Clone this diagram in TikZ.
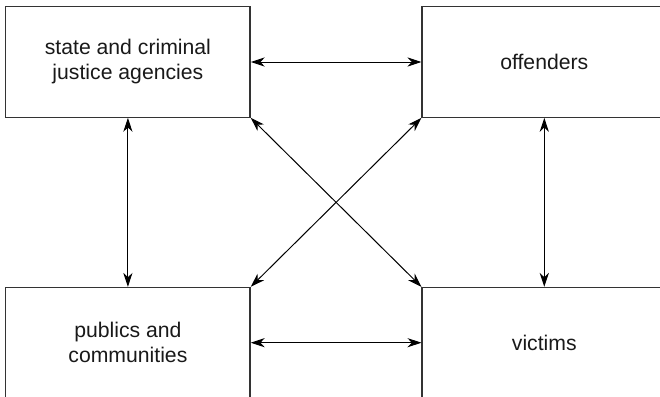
\documentclass[tikz,border=0pt]{standalone}
\usepackage{fontspec}
\setmainfont{Liberation Sans}
\usepackage{tikz}
\usetikzlibrary{arrows.meta}
\tikzstyle{box} = [draw=black!80, line width=0.65pt, minimum width=122.2pt, minimum height=55.2pt, inner sep=0pt, align=center, text=black!90, font=\fontsize{10.6}{12.5}\selectfont]
\tikzstyle{arrow} = [line width=0.5pt, {Stealth[length=7pt,width=4.6pt,inset=2.2pt]}-{Stealth[length=7pt,width=4.6pt,inset=2.2pt]}]

\begin{document}
\begin{tikzpicture}[x=0.5pt,y=-0.5pt]
	
	% Frame:
	% The page is cut at the right and bottom, so the outer boxes are clipped
	\useasboundingbox (0,0) rectangle (660,397);
	\clip (0,0) rectangle (660,397);
	
	% Boxes:
	\node[box] (state) at (127.9,62) {state and criminal\\justice agencies};
	\node[box] (offenders) at (544.3,62) {offenders};
	\node[box] (publics) at (127.9,342.7) {publics and\\communities};
	\node[box] (victims) at (544.3,342.7) {victims};
	
	% Arrows:
	% Straight ones between neighbours, crossed ones from corner to corner
	\draw[arrow] (state) -- (offenders);
	\draw[arrow] (publics) -- (victims);
	\draw[arrow] (state) -- (publics);
	\draw[arrow] (offenders) -- (victims);
	\draw[arrow] (state.south east) -- (victims.north west);
	\draw[arrow] (offenders.south west) -- (publics.north east);
	
\end{tikzpicture}
\end{document}
